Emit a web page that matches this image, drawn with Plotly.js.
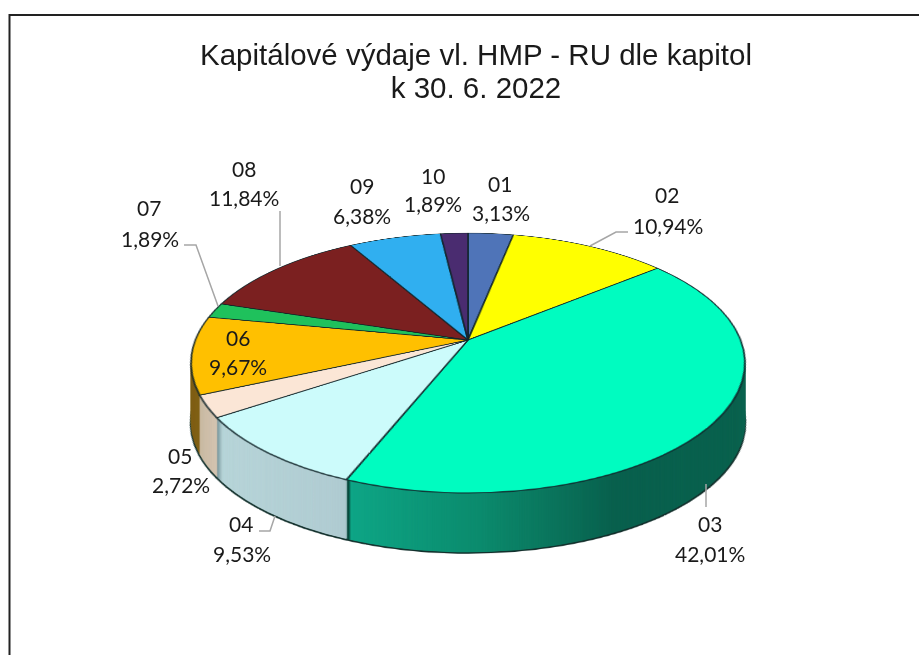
<!DOCTYPE html>
<html><head><meta charset="utf-8">
<script src="https://cdn.plot.ly/plotly-3.0.1.min.js"></script>
<style>html,body{margin:0;padding:0;background:#fff}#gd{width:919px;height:655px}</style>
</head><body><div id="gd"></div>
<svg width="0" height="0" style="position:absolute"><defs id="grads"></defs></svg>
<script>
var categories = ["01","02","03","04","05","06","07","08","09","10"];
var shares = [3.13,10.94,42.01,9.53,2.72,9.67,1.89,11.84,6.38,1.89];
var topColors = ["#4f74b8","#ffff00","#00fcc0","#ccfbfb","#fbe6d6","#ffc000","#1fc15c","#7b2020","#30aff0","#4a2c70"];
var sideColors = ["#3a5688","#a8a800","#0a6e55","#a3c4ca","#d8c8bc","#a87c10","#118040","#501010","#2080b0","#2e1a48"];
var chartTitle = "Kapitálové výdaje vl. HMP - RU dle kapitol<br>k 30. 6. 2022";

var codeX = [500,667,710,241,180,238,149,244,362,433];
var codeY = [183,195,523,523,455,337,208,168,185,175];
var pctX  = [501,668,710,242,181,238,150,244,362,433];
var pctY  = [212,226,553,553,484,367,238,197,215,203];

var CX = 468, CY = 340, R = 272.6, W = 919, H = 655, DEPTH = 60;
var TILT = "perspective(1366px) rotateX(62.5deg)";
var domain = {x:[(CX-R)/W,(CX+R)/W], y:[1-(CY+R)/H,1-(CY-R)/H]};

function pie(colors, line){
  return {type:"pie", values:shares, labels:categories, sort:false, direction:"clockwise",
    rotation:0, textinfo:"none", hoverinfo:"none", showlegend:false, domain:domain,
    marker:{colors:colors, line:line}};
}
var labelFont = {family:"Lato, 'Open Sans', sans-serif",size:21,color:"#1a1a1a"};
var annotations = [];
categories.forEach(function(c,i){
  annotations.push({xref:"paper",yref:"paper",x:codeX[i]/W,y:1-codeY[i]/H,showarrow:false,
    xanchor:"center",yanchor:"middle",text:c,font:labelFont});
  annotations.push({xref:"paper",yref:"paper",x:pctX[i]/W,y:1-pctY[i]/H,showarrow:false,
    xanchor:"center",yanchor:"middle",text:shares[i].toFixed(2).replace(".",",")+"%",font:labelFont});
});
function seg(pts,color,width){
  return {type:"path",xref:"paper",yref:"paper",
    path:"M"+pts.map(function(p){return (p[0]/W)+","+(1-p[1]/H);}).join("L"),
    line:{color:color||"#a6a6a6",width:width||1.5},layer:"above"};
}
var shapes = [
  seg([[184,245],[196,245],[218,306]]),
  seg([[280,211],[280,266]]),
  seg([[590,246],[616,232],[628,232]]),
  seg([[706,484],[706,507]]),
  seg([[259,531],[270,531],[275,516]]),
  seg([[9.5,655],[9.5,15],[919,15]],"#222",2)
];
var layout = {width:W,height:H,margin:{l:0,r:0,t:0,b:0},paper_bgcolor:"rgba(0,0,0,0)",
  title:{text:chartTitle,x:476/W,xanchor:"center",y:1-64.5/H,yanchor:"middle",
    font:{family:"'Liberation Sans', Arial, sans-serif",size:29.5,color:"#1a1a1a"}},
  annotations:annotations,shapes:shapes};
var traces = [pie(sideColors,{width:0,color:"rgba(0,0,0,0)"}),
              pie(topColors,{width:1.8,color:"rgba(15,35,40,0.85)"})];

Plotly.newPlot("gd",traces,layout,{displayModeBar:false,staticPlot:true}).then(function(gd){
  var ns="http://www.w3.org/2000/svg";
  var defs=document.getElementById("grads");
  function grad(id,stops){
    var g=document.createElementNS(ns,"linearGradient");g.setAttribute("id",id);
    stops.forEach(function(s){var e=document.createElementNS(ns,"stop");
      e.setAttribute("offset",s[0]);e.setAttribute("stop-color",s[1]);g.appendChild(e);});
    defs.appendChild(g);
  }
  grad("g3",[[0,"#06493c"],[0.006,"#06493c"],[0.01,"#0ca585"],[0.3,"#0a8a6c"],[0.6,"#075f4c"],[1,"#07604c"]]);
  grad("g4",[[0,"#6d8c92"],[0.03,"#b6d4d8"],[0.5,"#b0ccd2"],[0.985,"#92b2b8"],[1,"#245050"]]);
  grad("g5",[[0,"#c8b8a0"],[0.25,"#e8d8cc"],[0.93,"#e0d0c8"],[1,"#6a6a6a"]]);
  grad("g6",[[0,"#7a5a10"],[0.55,"#a07a20"],[1,"#c09a30"]]);
  var sideFill={2:"url(#g3)",3:"url(#g4)",4:"url(#g5)",5:"url(#g6)"};

  var container=gd.querySelector(".svg-container");
  var svgs=gd.querySelectorAll(".main-svg");
  var main=svgs[0];
  svgs.forEach(function(s,i){ if(i>0) s.style.zIndex=300; });
  var tracesG=main.querySelectorAll(".pielayer .trace");
  var sideG=tracesG[0];
  sideG.querySelectorAll(".slice path").forEach(function(p,i){
    if(sideFill[i]) p.style.fill=sideFill[i];
  });
  var origin=CX+"px "+CY+"px";
  main.style.transformOrigin=origin;
  main.style.transform=TILT;
  main.style.zIndex=100;
  for(var d=DEPTH;d>=1;d--){
    var c=main.cloneNode(true);
    var cg=c.querySelectorAll(".pielayer .trace");
    cg[1].parentNode.removeChild(cg[1]);
    c.style.transformOrigin=origin;
    c.style.transform="translateY("+d+"px) "+TILT;
    c.style.zIndex=100-d;
    c.removeAttribute("class");
    c.style.position="absolute";c.style.top="0";c.style.left="0";
    if(d==DEPTH){
      c.querySelectorAll(".slice path").forEach(function(p){
        p.style.stroke="#12302c";p.style.strokeWidth="2.4px";});
    }
    container.insertBefore(c,main);
  }
  sideG.parentNode.removeChild(sideG);
  var lines=gd.querySelectorAll(".gtitle tspan.line");
  if(lines.length>1) lines[1].setAttribute("dy","33px");
});
</script></body></html>
